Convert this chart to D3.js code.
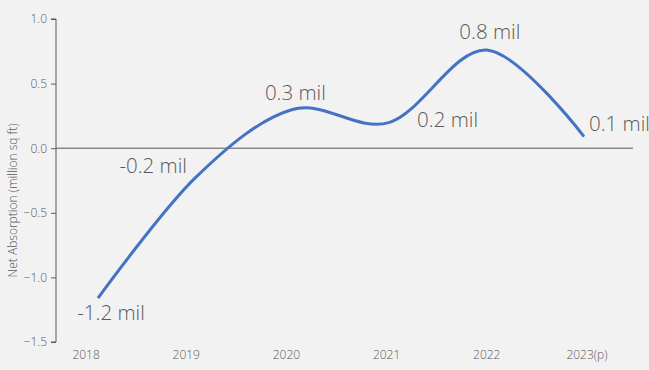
<!DOCTYPE html>
<html>
<head>
<meta charset="utf-8">
<script src="https://cdn.jsdelivr.net/npm/d3@7"></script>
<style>
  html, body { margin: 0; padding: 0; background: #f2f2f2; }
  svg { display: block; font-family: "Open Sans", sans-serif; }
</style>
</head>
<body>
<svg id="chart" width="649" height="370"></svg>
<script>
// Net absorption by year, in million sq ft
const years = ["2018", "2019", "2020", "2021", "2022", "2023(p)"];
const absorption = [-1.16, -0.23, 0.30, 0.20, 0.76, 0.09];
const yTicks = [-1.5, -1.0, -0.5, 0.0, 0.5, 1.0];
const yTitle = "Net Absorption (million sq ft)";

// label placement relative to each point: [dx, dy, anchor]
const labelPlacement = [
  [13, 22, "middle"],
  [-42, -5, "middle"],
  [3, -9, "middle"],
  [58, 5, "middle"],
  [3, -11, "middle"],
  [5, -6, "start"]
];

const svg = d3.select("#chart");
const textColor = "#595959";

const y = d3.scaleLinear().domain([-1.5, 1.0]).range([342, 19]);
const xAxisBand = d3.scaleBand().domain(years).range([36, 637]);
const xLine = d3.scalePoint().domain(years).range([98, 584]);

svg.append("rect").attr("width", 649).attr("height", 370).attr("fill", "#f2f2f2");

// y axis
const yAxis = d3.axisLeft(y).tickValues(yTicks).tickFormat(d3.format(".1f")).tickSize(5).tickPadding(4);
const gy = svg.append("g").attr("transform", "translate(56,0)").call(yAxis);
gy.select(".domain").attr("stroke", "#595959").attr("d", `M-5,${y(1.0)}H0V${y(-1.5)}H-5`);
gy.selectAll(".tick line").attr("stroke", "#595959");
gy.selectAll(".tick text").attr("fill", textColor).style("font-size", "12px")
  .style("font-weight", 300).style("font-family", "Open Sans, sans-serif");

// zero baseline
svg.append("line")
  .attr("x1", 56).attr("x2", 633)
  .attr("y1", y(0)).attr("y2", y(0))
  .attr("stroke", "#595959").attr("stroke-width", 1);

// x category labels
const xAxis = d3.axisBottom(xAxisBand).tickSize(0).tickPadding(0);
const gx = svg.append("g").attr("transform", "translate(0,350)").call(xAxis);
gx.select(".domain").remove();
gx.selectAll(".tick text").attr("fill", textColor).attr("dy", "0.71em")
  .style("font-size", "12px").style("font-weight", 300)
  .style("font-family", "Open Sans, sans-serif");

// axis title
svg.append("text")
  .attr("transform", `translate(17,${(y(1.0) + y(-1.5)) / 2 + 20}) rotate(-90)`)
  .attr("text-anchor", "middle")
  .attr("fill", textColor)
  .style("font-size", "12px")
  .style("font-weight", 300)
  .text(yTitle);

// smoothed line
const line = d3.line()
  .x((d, i) => xLine(years[i]))
  .y(d => y(d))
  .curve(d3.curveCardinal.tension(0));

svg.append("path")
  .datum(absorption)
  .attr("d", line)
  .attr("fill", "none")
  .attr("stroke", "#4472c4")
  .attr("stroke-width", 3)
  .attr("stroke-linecap", "butt");

// data labels
const fmt = d3.format(".1f");
svg.append("g").selectAll("text")
  .data(absorption)
  .join("text")
  .attr("x", (d, i) => xLine(years[i]) + labelPlacement[i][0])
  .attr("y", (d, i) => y(d) + labelPlacement[i][1])
  .attr("text-anchor", (d, i) => labelPlacement[i][2])
  .attr("fill", textColor)
  .style("font-size", "20.5px")
  .style("font-weight", 300)
  .text(d => fmt(d).replace("−", "-") + " mil");
</script>
</body>
</html>
